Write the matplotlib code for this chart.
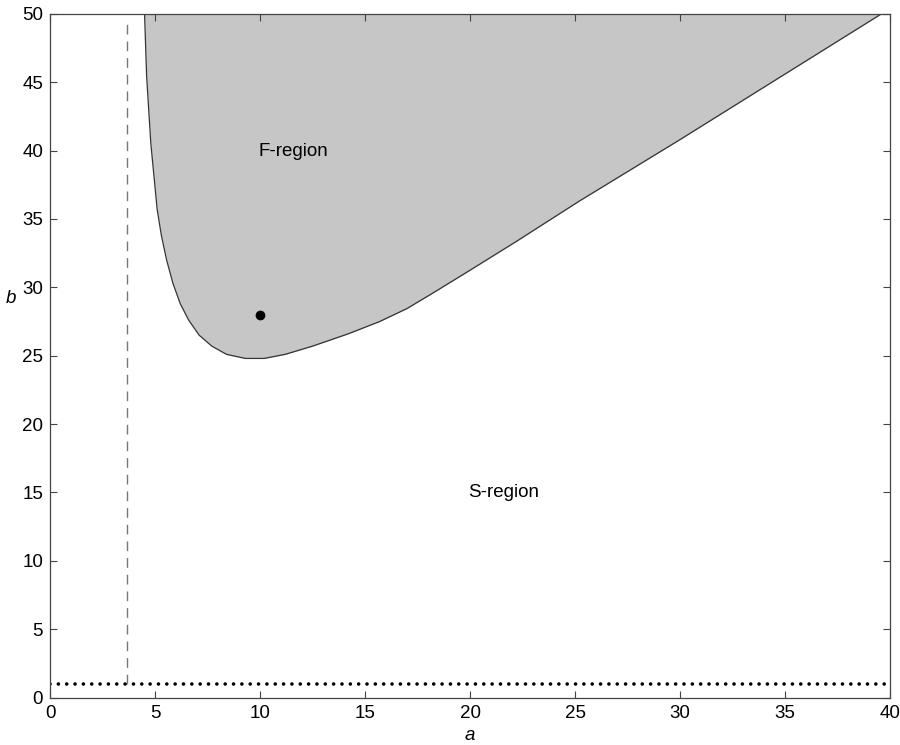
import numpy as np
import matplotlib
matplotlib.use("Agg")
import matplotlib.pyplot as plt

# boundary of the F-region
a_curve = [4.5, 4.6, 4.8, 5.1, 5.3, 5.55, 5.85, 6.2, 6.6, 7.1, 7.7, 8.4, 9.3,
           10.2, 11.2, 12.5, 14.2, 15.7, 17.0, 18.25, 20.0, 22.2, 25.2, 30.0, 34.8, 39.6]
b_curve = [50.0, 45.4, 40.5, 35.7, 33.8, 32.0, 30.3, 28.8, 27.6, 26.5, 25.7, 25.1, 24.8,
           24.8, 25.1, 25.7, 26.6, 27.5, 28.45, 29.6, 31.25, 33.35, 36.3, 40.8, 45.4, 50.0]

a_dashed = 3.65   # vertical dashed line
b_dotted = 1.0    # horizontal dotted line
point = (10.0, 28.0)

x_ticks = [0, 5, 10, 15, 20, 25, 30, 35, 40]
y_ticks = [0, 5, 10, 15, 20, 25, 30, 35, 40, 45, 50]

plt.rcParams["font.family"] = ["Liberation Sans", "DejaVu Sans"]
fs = 13.5

fig = plt.figure(figsize=(9, 7.45), dpi=100)
ax = fig.add_axes([0.0556, 0.0635, 0.9334, 0.9181])

ax.fill_between(a_curve, b_curve, 50, color="#c6c6c6", linewidth=0)
ax.plot(a_curve, b_curve, color="#333333", linewidth=0.9)

ax.axvline(a_dashed, ymin=0.02, ymax=0.99, color="#777777", linewidth=1.0, dashes=(7, 5))
ax.axhline(b_dotted, color="black", linewidth=2.6, linestyle=(0, (0.01, 2.3)),
           dash_capstyle="round")

ax.plot(point[0], point[1], "o", color="black", markersize=6)

ax.text(11.6, 39.9, "F-region", fontsize=fs, ha="center", va="center")
ax.text(21.6, 15.0, "S-region", fontsize=fs, ha="center", va="center")

ax.set_xlim(0, 40)
ax.set_ylim(0, 50)
ax.set_xticks(x_ticks)
ax.set_yticks(y_ticks)
ax.tick_params(direction="in", length=5, width=0.8, top=True, right=True,
               labelsize=fs, pad=5, color="#444444")
for s in ax.spines.values():
    s.set_color("#444444")
    s.set_linewidth(0.9)

ax.set_xlabel("a", fontsize=fs, style="italic")
ax.xaxis.set_label_coords(0.5, -0.043)
ax.set_ylabel("b", fontsize=fs, style="italic", rotation=0, ha="center", va="center")
ax.yaxis.set_label_coords(-0.047, 0.584)

fig.savefig("out.png", dpi=100)
